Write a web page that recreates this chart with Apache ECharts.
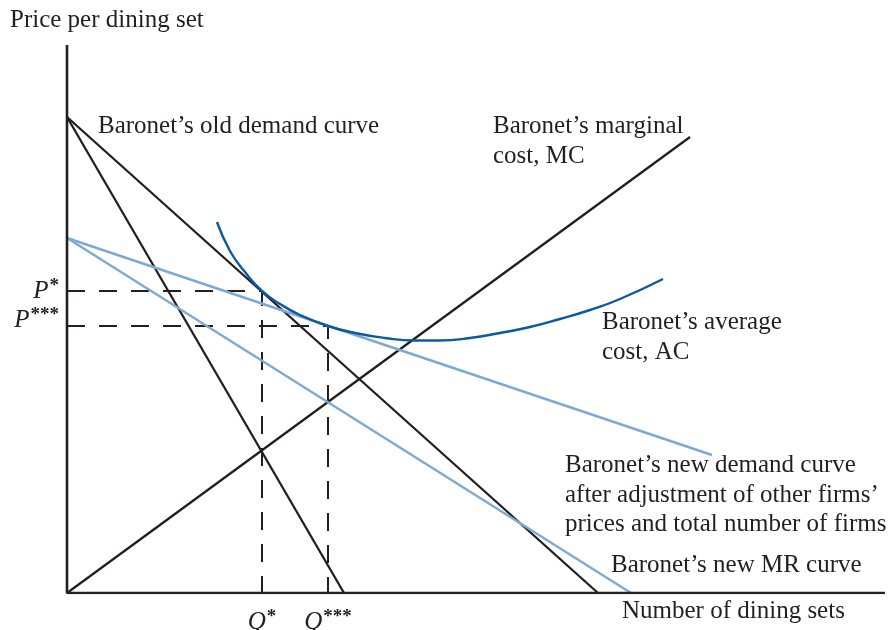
<!DOCTYPE html>
<html>
<head>
<meta charset="utf-8">
<script src="https://cdn.jsdelivr.net/npm/echarts@6/dist/echarts.min.js"></script>
<style>html,body{margin:0;padding:0;background:#fff;}#c{width:896px;height:630px;}</style>
</head>
<body>
<div id="c"></div>
<script>
// Axis extents (arbitrary quantity / price units)
const X_MAX = 818;
const Y_MAX = 548;
// Curves
const oldDemand = [[0, 476], [531, 0]];
const oldMR = [[0, 476], [277, 0]];
const marginalCost = [[0, 0], [623, 456]];
const newDemand = [[0, 355], [645, 138]];
const newMR = [[0, 355], [564, 0]];
const averageCost = [
  [150, 371], [163, 342], [178, 321], [195, 302], [213, 289], [233, 278],
  [261, 267], [288, 260], [318, 255], [348, 252.5], [373, 252.5], [403, 255],
  [433, 260], [463, 266], [493, 274], [523, 283], [553, 294], [596, 314]
];
// Equilibrium points
const Qstar = 195, Pstar = 302;
const Qsss = 261, Psss = 267;

const INK = '#231f20';
const LIGHT = '#7ea9d3';
const DARK = '#0b5aa0';
const FONT = 'Liberation Serif';

function line(data, color, width, extra) {
  return Object.assign({
    type: 'line', data: data, symbol: 'none', silent: true,
    lineStyle: { color: color, width: width }
  }, extra || {});
}

const rich = {
  i: { fontFamily: FONT, fontStyle: 'italic', fontSize: 25, color: INK, opacity: 1 },
  s: { fontFamily: FONT, fontWeight: 'bold', fontSize: 19, color: INK, opacity: 1, verticalAlign: 'top', padding: [0, 0, 10, 1] }
};

function markLabel(pt, text, position, offset) {
  return {
    type: 'scatter', data: [pt], symbolSize: 0, silent: true,
    itemStyle: { color: INK, opacity: 1 },
    label: {
      show: true, position: position, distance: 6, offset: offset,
      color: INK, opacity: 1, formatter: text, rich: rich
    }
  };
}

const chart = echarts.init(document.getElementById('c'), null, { renderer: 'canvas' });
const tStyle = (x, y, text) => ({
  type: 'text', left: x, top: y,
  style: { text: text, font: '25px "' + FONT + '"', fill: INK, lineHeight: 29.5 }
});

chart.setOption({
  animation: false,
  backgroundColor: '#fff',
  grid: { left: 67, top: 45, right: 896 - 67 - X_MAX, bottom: 630 - 45 - Y_MAX },
  xAxis: { type: 'value', min: 0, max: X_MAX, show: false },
  yAxis: { type: 'value', min: 0, max: Y_MAX, show: false },
  series: [
    line([[0, Pstar], [Qstar, Pstar], [Qstar, 0]], INK, 2, { lineStyle: { color: INK, width: 2, type: [18, 14] } }),
    line([[0, Psss], [Qsss, Psss], [Qsss, 0]], INK, 2, { lineStyle: { color: INK, width: 2, type: [18, 14] } }),
    line(oldDemand, INK, 2.3),
    line(oldMR, INK, 2.3),
    line(marginalCost, INK, 2.3),
    line(newDemand, LIGHT, 2.4),
    line(newMR, LIGHT, 2.4),
    line(averageCost, DARK, 2.4, { smooth: 0.5 }),
    line([[0, Y_MAX], [0, 0], [X_MAX, 0]], INK, 2.6),
    markLabel([0, Pstar], '{i|P}{s|*}', 'left', [-2, 0]),
    markLabel([0, Psss], '{i|P}{s|***}', 'left', [-2, -6]),
    markLabel([Qstar, 0], '{i|Q}{s|*}', 'bottom', [0, 9]),
    markLabel([Qsss, 0], '{i|Q}{s|***}', 'bottom', [0, 9])
  ],
  graphic: [
    tStyle(10, 6, 'Price per dining set'),
    tStyle(98, 112, 'Baronet\u2019s old demand curve'),
    tStyle(493, 112, 'Baronet\u2019s marginal\ncost, MC'),
    tStyle(602, 308, 'Baronet\u2019s average\ncost, AC'),
    tStyle(565, 451, 'Baronet\u2019s new demand curve\nafter adjustment of other firms\u2019\nprices and total number of firms'),
    tStyle(611, 551, 'Baronet\u2019s new MR curve'),
    tStyle(622, 597, 'Number of dining sets')
  ]
});
</script>
</body>
</html>
